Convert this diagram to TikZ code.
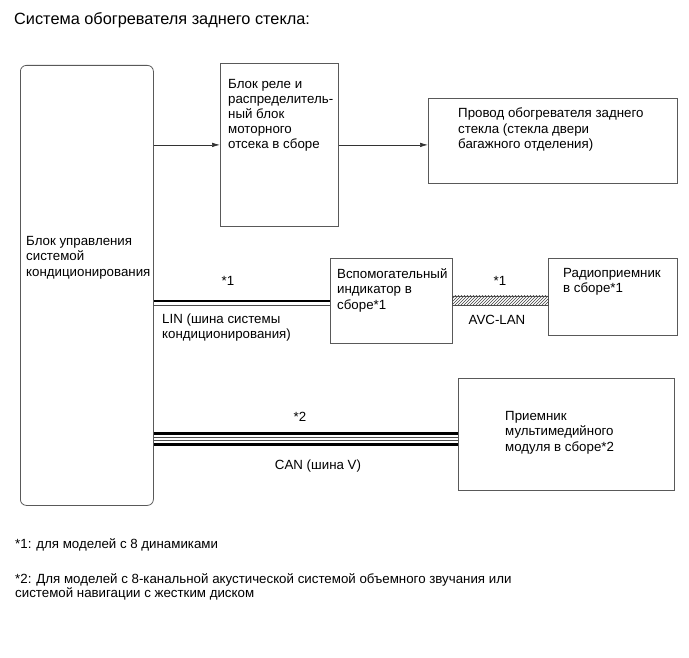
\documentclass[tikz,border=0pt]{standalone}
\usepackage{fontspec}
\setmainfont{Liberation Sans}
\usepackage{tikz}
\usetikzlibrary{arrows.meta,positioning,calc,patterns}

\begin{document}
\begin{tikzpicture}[
  x=1pt, y=-1pt,
  box/.style={draw=black!65, line width=0.8pt, inner sep=0pt, anchor=north west},
  txt/.style={anchor=north west, inner sep=0pt, align=left, font=\fontsize{13.3}{15.5}\selectfont},
  lbl/.style={anchor=base, inner sep=0pt, font=\fontsize{13.3}{15.5}\selectfont},
  arr/.style={-{Latex[length=8pt,width=4.5pt]}, line width=0.7pt, draw=black!80},
  thin/.style={line width=0.8pt, draw=black!70},
  bus/.style={line width=2.8pt, draw=black}
]
  \useasboundingbox (0,0) rectangle (689,658);

  \node[lbl, anchor=base west, font=\fontsize{16.3}{19}\selectfont] (title) at (14,25) {Система обогревателя заднего стекла:};

  % blocks
  \node[box, rounded corners=6pt, minimum width=133pt, minimum height=440pt] (ctrl) at (20,65) {};
  \node[box, minimum width=118pt, minimum height=163pt] (relay) at (220,63) {};
  \node[box, minimum width=249pt, minimum height=85pt] (wire) at (428,98) {};
  \node[box, minimum width=122pt, minimum height=85pt] (aux) at (330,258) {};
  \node[box, minimum width=129pt, minimum height=77pt] (radio) at (548,258) {};
  \node[box, minimum width=216pt, minimum height=112pt] (mm) at (458,378) {};

  \node[txt] (ctrltxt) at (26,236) {Блок управления\\системой\\кондиционирования};
  \node[txt, font=\fontsize{13.3}{15}\selectfont] (relaytxt) at (228,79) {Блок реле и\\распределитель-\\ный блок\\моторного\\отсека в сборе};
  \node[txt] (wiretxt) at (458,108) {Провод обогревателя заднего\\стекла (стекла двери\\багажного отделения)};
  \node[txt] (auxtxt) at (337,268) {Вспомогательный\\индикатор в\\сборе*1};
  \node[txt] (radiotxt) at (563,268) {Радиоприемник\\в сборе*1};
  \node[txt] (mmtxt) at (505,411) {Приемник\\мультимедийного\\модуля в сборе*2};

  % power lines
  \draw[arr] (ctrl.east |- relay.west) -- (relay.west);
  \draw[arr] (relay.east) -- (relay.east -| wire.west);

  % LIN
  \draw[thin] ([yshift=-4.5pt]ctrl.east |- aux.west) -- ([yshift=-4.5pt]aux.west);
  \draw[bus] (ctrl.east |- aux.west) -- (aux.west);
  \node[lbl] (lin1) at (228,286) {*1};
  \node[txt] (lintxt) at (162,313.5) {LIN (шина системы\\кондиционирования)};

  % AVC-LAN
  \draw[thin, pattern=north east lines, pattern color=black!75]
    ($(aux.east)+(0,-5)$) rectangle ($(aux.east -| radio.west)+(0,4)$);
  \node[lbl] (avc1) at (500,286) {*1};
  \node[lbl] (avctxt) at (497,324) {AVC-LAN};

  % CAN
  \coordinate (can) at ($(mm.west)+(0,4.5)$);
  \draw[bus] ([yshift=-5.5pt]ctrl.east |- can) -- ([yshift=-5.5pt]mm.west |- can);
  \draw[thin] ([yshift=-1.5pt]ctrl.east |- can) -- ([yshift=-1.5pt]mm.west |- can);
  \draw[thin] ([yshift=1.5pt]ctrl.east |- can) -- ([yshift=1.5pt]mm.west |- can);
  \draw[bus] ([yshift=5.5pt]ctrl.east |- can) -- ([yshift=5.5pt]mm.west |- can);
  \node[lbl] (can2) at (300,421) {*2};
  \node[lbl] (cantxt) at (318,469) {CAN (шина V)};

  % notes
  \node[lbl, anchor=base west] (note1) at (15,548) {*1: для моделей с 8 динамиками};
  \node[txt, font=\fontsize{13.3}{14}\selectfont] (note2) at (15,573) {*2: Для моделей с 8-канальной акустической системой объемного звучания или\\системой навигации с жестким диском};
\end{tikzpicture}
\end{document}
